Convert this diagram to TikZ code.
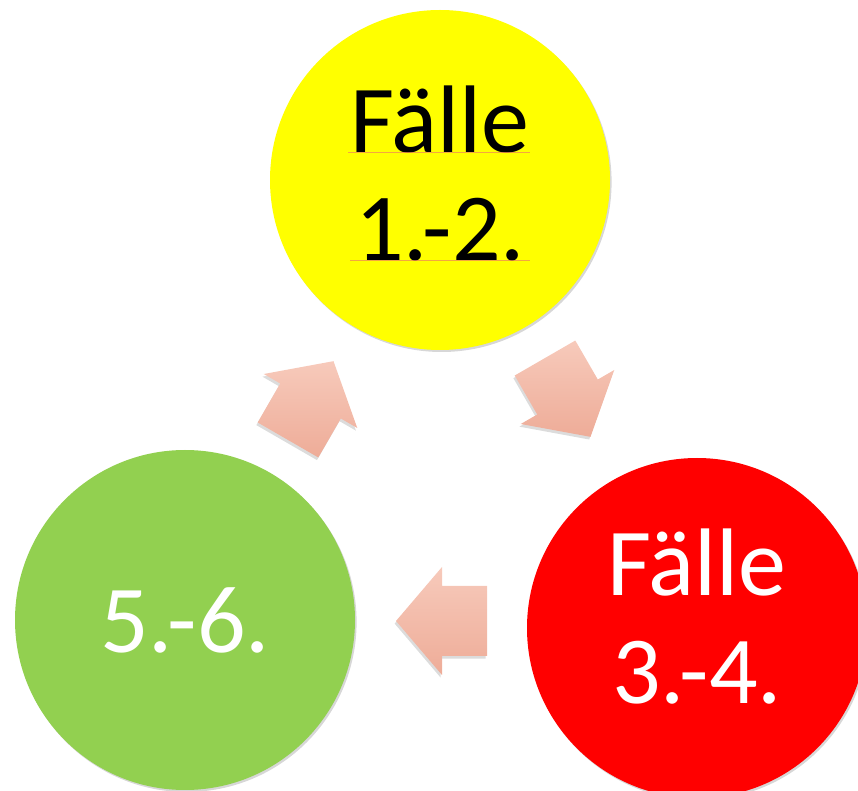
\documentclass[tikz,border=0pt]{standalone}
\usepackage{fontspec}
\setmainfont{Carlito}
\usetikzlibrary{calc,
                shadows}

\definecolor{caseyellow}{RGB}{255,255,0}
\definecolor{casered}{RGB}{255,0,0}
\definecolor{casegreen}{RGB}{146,208,80}
\definecolor{arrowtop}{RGB}{247,202,187}
\definecolor{arrowbottom}{RGB}{238,172,152}
\definecolor{proofline}{RGB}{240,130,90}

\begin{document}
\begin{tikzpicture}%
    [x = 0.75pt, y = -0.75pt,
     casecircle/.style = {circle, minimum size = 255pt, inner sep = 0pt, align = center,
                          font = \fontsize{72}{81}\selectfont,
                          drop shadow = {shadow xshift = 1.2pt, shadow yshift = -1.5pt,
                                         opacity = 0.35, fill = black!45}},
     twolines/.style = {text depth = #1},
     blockarrow/.style = {top color = arrowtop, bottom color = arrowbottom,
                          drop shadow = {shadow xshift = -1pt, shadow yshift = -2pt,
                                         opacity = 0.3, fill = black!45}},
     pics/cyclearrow/.style = {code = {
        \path[blockarrow] (-45,-35) -- (0,-35) -- (0,-54) -- (46,0) -- (0,54) -- (0,35) -- (-45,35) -- cycle;}}]
    \clip (0,0) rectangle (858,791);

    \node[casecircle, twolines = 10pt, fill = caseyellow] (fall12) at (440,180) {Fälle\\1.-2.};
    \node[casecircle, twolines = 17pt, fill = casered, text = white] (fall34) at (697,628) {Fälle\\3.-4.};
    \node[casecircle, fill = casegreen, text = white] (fall56) at (185,620) {5.-6.};

    % marks under the yellow text
    \draw[proofline, line width = 0.5pt, opacity = 0.7] ($(fall12.center)+(-92,-28)$) -- ++(182,0);
    \draw[proofline, line width = 0.5pt, opacity = 0.7] ($(fall12.center)+(-90,80)$) -- ++(180,0);

    \pic[rotate = 60] at ($(fall56)!0.5!(fall12)+(-2,1)$) {cyclearrow};
    \pic[rotate = -60] at ($(fall12)!0.5!(fall34)+(-1,-7)$) {cyclearrow};
    \pic[rotate = 180] at ($(fall34)!0.5!(fall56)+(1,-3)$) {cyclearrow};
\end{tikzpicture}
\end{document}
